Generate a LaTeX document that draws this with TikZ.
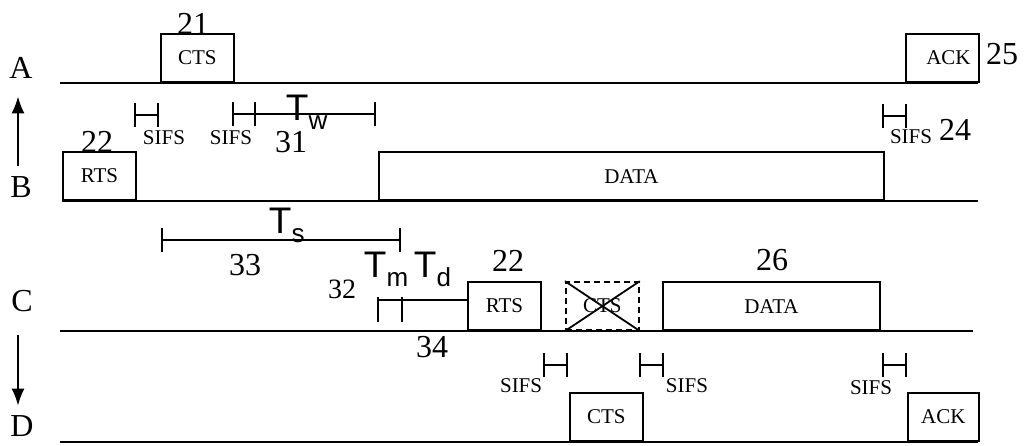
\documentclass[tikz,border=0pt]{standalone}
\usepackage{fontspec}
\setmainfont{Liberation Serif}
\setsansfont{Liberation Sans}
\usetikzlibrary{arrows.meta}
\newcommand{\tsub}[1]{\textsf{T}\raisebox{-4.5pt}{\fontsize{13}{13}\selectfont\textsf{#1}}}
\begin{document}
\begin{tikzpicture}[x=0.5pt, y=-0.5pt, line width=0.9pt, >={Latex[length=8.5pt,width=6.5pt]}]
        \tikzset{
            frame/.style={draw, anchor=south west, minimum width=36.5pt, minimum height=24pt, inner sep=0pt, font=\fontsize{10.5}{11}\selectfont},
            gap/.style={{Bar[width=12pt]}-{Bar[width=12pt]}},
            sifs/.style={inner sep=0pt, font=\fontsize{10.5}{11}\selectfont},
            num/.style={inner sep=0pt, font=\fontsize{16}{16}\selectfont},
            station/.style={inner sep=0pt, font=\fontsize{16}{16}\selectfont},
            tlabel/.style={anchor=base west, inner sep=0pt, font=\fontsize{18.5}{18.5}\selectfont}
        }
        \useasboundingbox (0,0) rectangle (1026,445);

        \node[station] (A) at (21,68) {A};
        \node[station] (B) at (21,187) {B};
        \node[station] (C) at (22,301) {C};
        \node[station] (D) at (22,426) {D};
        \draw[->, shorten <=5pt, shorten >=8.5pt] ([xshift=-1.5pt]B.north) -- ([xshift=-1.5pt]A.south);
        \draw[->, shorten <=11pt, shorten >=4.5pt] ([xshift=-2pt]C.south) -- ([xshift=-2pt]D.north);

        \draw (60,83) -- (978,83);
        \draw (62,201) -- (978,201);
        \draw (60,331) -- (973,331);
        \draw (60,442) -- (978,442);

        \node[frame] (ctsA) at (160,83) {CTS};
        \node[frame] (ackA) at (905,83) {\hspace*{6pt}ACK};
        \node[frame] (rtsB) at (62,201) {RTS};
        \node[frame, minimum width=252.5pt] (dataB) at (378,201) {DATA};
        \node[frame] (rtsC) at (467,331) {RTS};
        \node[frame, dash pattern=on 3pt off 2pt] (ctsC) at (565,331) {CTS};
        \node[frame, minimum width=108.5pt] (dataC) at (662,331) {DATA};
        \node[frame] (ctsD) at (569,442) {CTS};
        \node[frame, minimum width=35.5pt] (ackD) at (907,442) {ACK};
        \draw (ctsC.north west) -- (ctsC.south east) (ctsC.south west) -- (ctsC.north east);

        \draw[gap] (134,115) -- (159,115);
        \draw[gap] (232,114) -- (256,114);
        \draw[-{Bar[width=12pt]}] (256,114) -- (376,114);
        \draw[gap] (882,116) -- (907,116);
        \draw[gap] (161,240) -- (401,240);
        \draw[gap] (543,365) -- (568,365);
        \draw[gap] (639,365) -- (664,365);
        \draw[gap] (882,365) -- (907,365);
        \coordinate (tm) at (378,300);
        \draw (378,297) -- (378,322) (402,297) -- (402,322);
        \draw (tm) -- (tm -| rtsC.west);

        \node[sifs] (sifs1) at (164,138) {SIFS};
        \node[sifs] (sifs2) at (231,138) {SIFS};
        \node[sifs] (sifs3) at (911,137) {SIFS};
        \node[sifs, anchor=east] (sifs4) at (543,386) {SIFS};
        \node[sifs] (sifs5) at (687,386) {SIFS};
        \node[sifs] (sifs6) at (871,388) {SIFS};

        \node[tlabel] (tw) at (285,120) {\tsub{w}};
        \node[tlabel] (ts) at (268,233) {\tsub{s}};
        \node[tlabel] (tmm) at (363,277) {\tsub{m}};
        \node[tlabel] (td) at (413,277) {\tsub{d}};

        \node[num] (n21) at (193,24) {21};
        \node[num] (n22b) at (97,142) {22};
        \node[num] (n31) at (291,142) {31};
        \node[num] (n25) at (1002,54) {25};
        \node[num] (n24) at (955,130) {24};
        \node[num] (n33) at (245,265) {33};
        \node[num, font=\fontsize{14}{14}\selectfont] (n32) at (342,289) {32};
        \node[num] (n22c) at (508,261) {22};
        \node[num] (n26) at (772,260) {26};
        \node[num] (n34) at (432,347) {34};
    \end{tikzpicture}
\end{document}
